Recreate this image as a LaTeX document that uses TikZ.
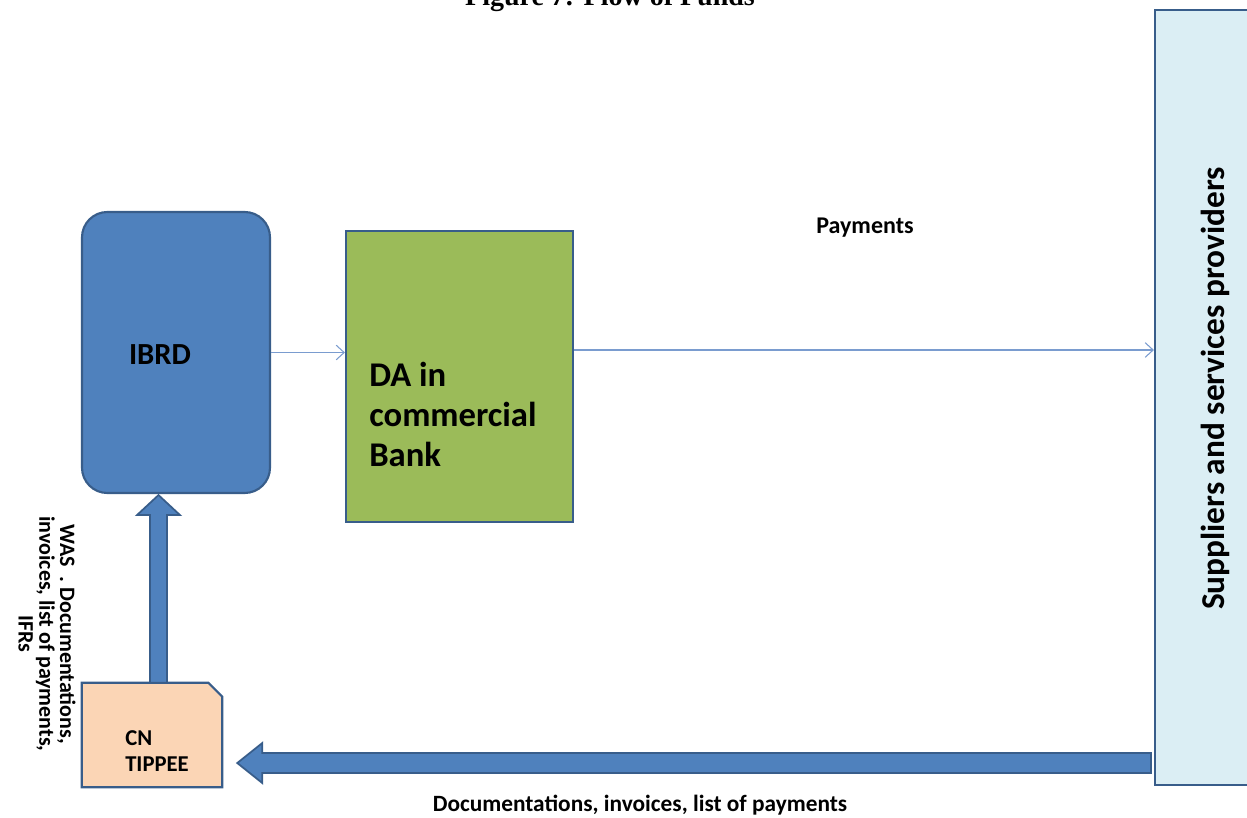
\documentclass[tikz,border=0pt]{standalone}
\usepackage{fontspec}
\setmainfont{Carlito}
\newfontfamily\titlefont{Liberation Serif}
\usetikzlibrary{arrows.meta,calc}
\definecolor{bluefill}{HTML}{4F81BD}
\definecolor{blueedge}{HTML}{385D8A}
\definecolor{greenfill}{HTML}{9BBB59}
\definecolor{peachfill}{HTML}{FBD5B5}
\definecolor{lightfill}{HTML}{DBEEF4}
\definecolor{thinblue}{HTML}{7A9CCF}
\tikzset{
  boxbase/.style={draw=blueedge, line width=1.6pt, inner sep=0pt},
  thinarrow/.style={draw=thinblue, line width=0.8pt, -{Straight Barb[length=6pt,width=11pt]}},
  blockarrow/.style={fill=bluefill, draw=blueedge, line width=1.3pt, line join=miter},
  lbl/.style={font=\bfseries, text=black, inner sep=0pt},
}
\begin{document}
\begin{tikzpicture}[x=0.75pt,y=-0.75pt]
\useasboundingbox (0,0) rectangle (1247,818);
% title (cut off at top, as in the reference)
\node[font=\titlefont\bfseries\fontsize{21}{24}\selectfont, anchor=base, inner sep=0pt] (title) at (610,5) {Figure 7: Flow of Funds};
% boxes
\node[boxbase, fill=bluefill, rounded corners=19pt, minimum width=141pt, minimum height=210.75pt] (ibrd) at (176,352.5) {};
\node[lbl, font=\bfseries\fontsize{23}{26}\selectfont] (ibrdt) at (160,355) {IBRD};
\node[boxbase, fill=greenfill, minimum width=170.25pt, minimum height=218.25pt] (da) at (459.5,376.5) {};
\node[lbl, font=\bfseries\fontsize{26}{30}\selectfont, align=left, anchor=north west] (dat) at (369,362) {DA in\\commercial\\Bank};
\node[boxbase, fill=lightfill, minimum width=80.25pt, minimum height=581.25pt] (sup) at (1208.5,397.5) {};
\node[lbl, font=\bfseries\fontsize{25}{28}\selectfont, rotate=90] (supt) at (1215,388.5) {Suppliers and services providers};
% CN TIPPEE snipped-corner box
\node[inner sep=0pt, minimum width=105pt, minimum height=78pt] (cn) at (152,735) {};
\draw[boxbase, fill=peachfill, line join=miter] (cn.south west) -- (cn.north west) -- ($(cn.north east)+(-14,0)$) -- ($(cn.north east)+(0,14)$) -- (cn.south east) -- cycle;
\node[lbl, font=\bfseries\fontsize{17}{20}\selectfont, align=left, anchor=west] (cnt) at (125,751) {CN\\TIPPEE};
% thin arrows
\draw[thinarrow] (ibrd.east) -- (ibrd.east -| da.west);
\draw[thinarrow] (da.east |- 0,350) -- (sup.west |- 0,350);
\node[lbl, font=\bfseries\fontsize{18}{21}\selectfont] (pay) at (865,228) {Payments};
% big horizontal block arrow
\coordinate (ht) at ($(sup.west |- 0,763)+(-3,0)$);
\coordinate (hp) at ($(cn.east |- 0,763)+(15,0)$);
\draw[blockarrow] ($(ht)+(0,-10)$) -- ($(hp)+(25,-10)$) -- ($(hp)+(25,-20)$) -- (hp) -- ($(hp)+(25,20)$) -- ($(hp)+(25,10)$) -- ($(ht)+(0,10)$) -- cycle;
\node[lbl, font=\bfseries\fontsize{17.5}{20}\selectfont] (bot) at (640,805) {Documentations, invoices, list of payments};
% vertical block arrow
\coordinate (vt) at (cn.north -| 158.5,0);
\coordinate (vp) at ($(ibrd.south -| 158.5,0)+(0,1)$);
\draw[blockarrow] ($(vt)+(-8.5,0)$) -- ($(vp)+(-8.5,20)$) -- ($(vp)+(-21.5,20)$) -- (vp) -- ($(vp)+(21.5,20)$) -- ($(vp)+(8.5,20)$) -- ($(vt)+(8.5,0)$) -- cycle;
\node[lbl, font=\bfseries\fontsize{16.5}{15.5}\selectfont, align=center, rotate=-90] (side) at (47,634) {WAS\ \ . Documentations,\\invoices, list of payments,\\IFRs};
\end{tikzpicture}
\end{document}
